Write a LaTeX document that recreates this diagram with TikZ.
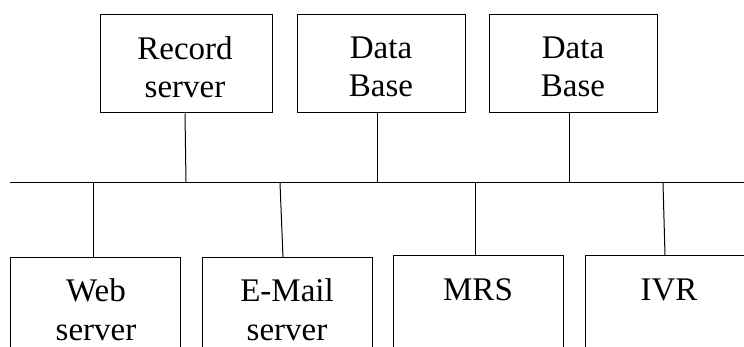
\documentclass[tikz,border=0pt]{standalone}
\usepackage{fontspec}
\setmainfont{Liberation Serif}
\begin{document}
\begin{tikzpicture}[x=1pt,y=-1pt, line width=1pt,
  unit/.style={draw, inner sep=0pt, minimum height=98pt},
  lowunit/.style={draw, inner sep=0pt, minimum width=170pt, minimum height=120pt},
  caption/.style={inner sep=0pt, align=center, font=\fontsize{33}{38.5}\selectfont}]
\useasboundingbox (0,0) rectangle (744,347);
\clip (0,0) rectangle (744,347);

% upper row of servers
\node[unit, minimum width=172pt] (rec) at (186,64) {};
\node[unit, minimum width=168pt] (db1) at (381,64) {};
\node[unit, minimum width=168pt] (db2) at (573,64) {};
\node[caption] (rect) at (185,67) {Record\\server};
\node[caption] (db1t) at (381,67) {Data\\Base};
\node[caption] (db2t) at (573,67) {Data\\Base};

% lower row of servers (cut by the lower edge)
\node[lowunit] (web) at (95,318) {};
\node[lowunit] (mail) at (287,318) {};
\node[lowunit] (mrs) at (478,316) {};
\node[lowunit] (ivr) at (670,316) {};
\node[caption] (webt) at (96,309.5) {Web\\server};
\node[caption] (mailt) at (287,309.5) {E-Mail\\server};
\node[caption] (mrst) at (478,289.5) {MRS};
\node[caption] (ivrt) at (669,289.5) {IVR};

% the shared bus
\coordinate (busL) at (10,183);
\coordinate (busR) at (760,183);
\draw (busL) -- (busR);

% taps on the bus
\coordinate (jrec) at (186,183);
\coordinate (jdb1) at (377,183);
\coordinate (jdb2) at (569,183);
\coordinate (jweb) at (93,183);
\coordinate (jmail) at (280,183);
\coordinate (jmrs) at (475,183);
\coordinate (jivr) at (663,183);

\draw ([xshift=-1pt]rec.south) -- (jrec);
\draw ([xshift=-4pt]db1.south) -- (jdb1);
\draw ([xshift=-4pt]db2.south) -- (jdb2);
\draw (jweb) -- ([xshift=-2pt]web.north);
\draw (jmail) -- ([xshift=-4pt]mail.north);
\draw (jmrs) -- ([xshift=-3pt]mrs.north);
\draw (jivr) -- ([xshift=-5pt]ivr.north);
\end{tikzpicture}
\end{document}
